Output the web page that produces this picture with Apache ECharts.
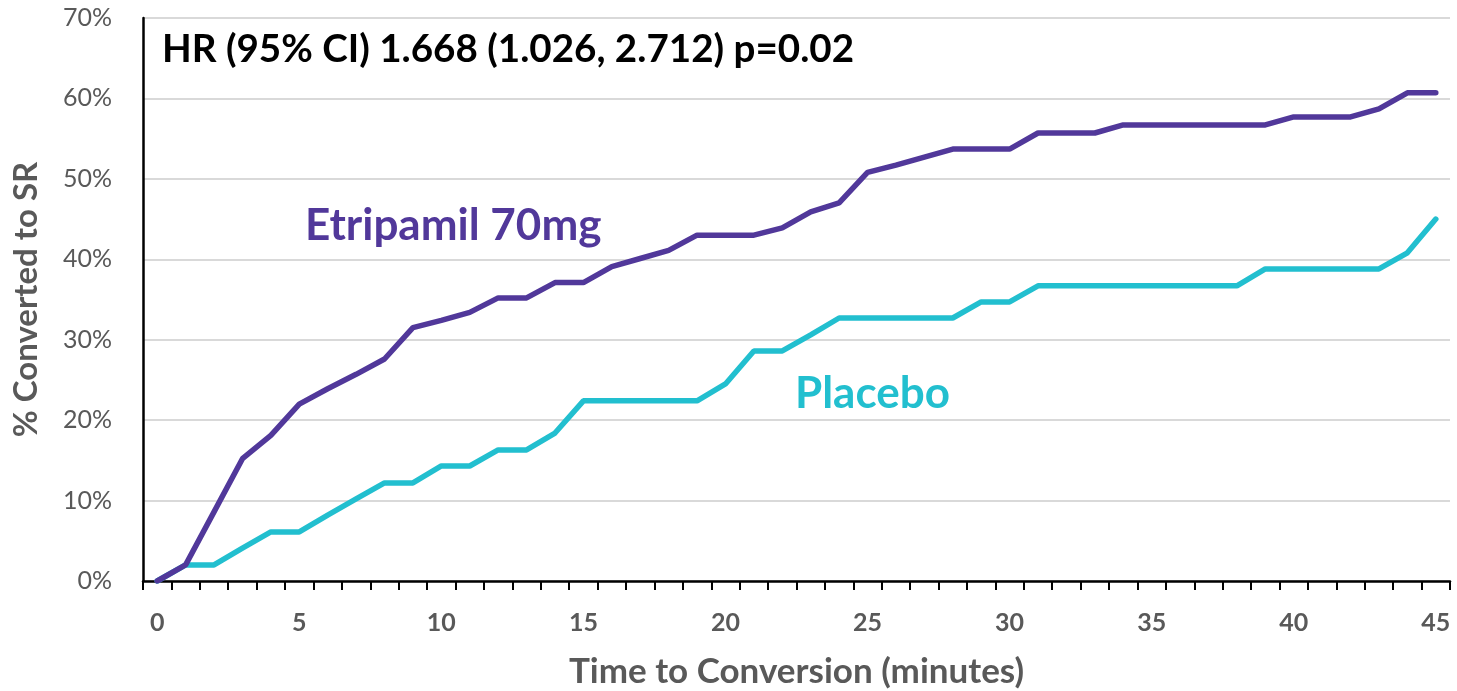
<!DOCTYPE html>
<html>
<head>
<meta charset="utf-8">
<title>Time to Conversion</title>
<script src="https://cdn.jsdelivr.net/npm/echarts@6/dist/echarts.min.js"></script>
<style>
  html, body { margin: 0; padding: 0; background: #fff; }
  #main { width: 1457px; height: 691px; }
</style>
</head>
<body>
<div id="main"></div>
<script>
// minutes 0..45
const minutes = Array.from({ length: 46 }, (_, i) => String(i))

// % converted to SR
const etripamil = [
  0, 2.0, 8.6, 15.2, 18.1, 22.0, 23.9, 25.7, 27.6, 31.5,
  32.4, 33.4, 35.2, 35.2, 37.1, 37.1, 39.1, 40.1, 41.1, 43.0,
  43.0, 43.0, 43.9, 45.9, 47.0, 50.8, 51.7, 52.7, 53.7, 53.7,
  53.7, 55.7, 55.7, 55.7, 56.7, 56.7, 56.7, 56.7, 56.7, 56.7,
  57.7, 57.7, 57.7, 58.7, 60.7, 60.7
]
const placebo = [
  0, 2.0, 2.0, 4.1, 6.1, 6.1, 8.2, 10.2, 12.2, 12.2,
  14.3, 14.3, 16.3, 16.3, 18.4, 22.4, 22.4, 22.4, 22.4, 22.4,
  24.5, 28.6, 28.6, 30.6, 32.7, 32.7, 32.7, 32.7, 32.7, 34.7,
  34.7, 36.7, 36.7, 36.7, 36.7, 36.7, 36.7, 36.7, 36.7, 38.8,
  38.8, 38.8, 38.8, 38.8, 40.8, 45.0
]

const PURPLE = '#51389a'
const TEAL = '#22bfcf'
const GREY = '#595959'
const FONT = 'Lato'

const chart = echarts.init(document.getElementById('main'))

chart.setOption({
  animation: false,
  grid: { left: 143, right: 7, top: 18, bottom: 110, outerBoundsMode: 'none' },
  xAxis: {
    type: 'category',
    data: minutes,
    boundaryGap: true,
    name: 'Time to Conversion (minutes)',
    nameLocation: 'middle',
    nameGap: 73,
    nameTextStyle: { color: GREY, fontFamily: FONT, fontWeight: 'bold', fontSize: 35 },
    axisLine: { lineStyle: { color: '#000', width: 2.5 } },
    axisTick: { show: true, interval: 0, length: 9, lineStyle: { color: '#000', width: 2 } },
    axisLabel: { interval: 4, color: GREY, fontFamily: FONT, fontWeight: 'bold', fontSize: 25, margin: 29 },
    splitLine: { show: false }
  },
  yAxis: {
    type: 'value',
    min: 0,
    max: 70,
    interval: 10,
    name: '% Converted to SR',
    nameLocation: 'middle',
    nameGap: 100,
    nameTextStyle: { color: GREY, fontFamily: FONT, fontWeight: 'bold', fontSize: 33 },
    axisLine: { show: true, lineStyle: { color: '#000', width: 2.5 } },
    axisTick: { show: false },
    axisLabel: { formatter: '{value}%', color: GREY, fontFamily: FONT, fontSize: 25, margin: 31 },
    splitLine: { lineStyle: { color: '#d9d9d9', width: 2 } }
  },
  graphic: [
    {
      type: 'text', left: 162, top: 30,
      style: { text: 'HR (95% CI) 1.668 (1.026, 2.712) p=0.02', fill: '#000', font: 'bold 38.6px ' + FONT }
    },
    {
      type: 'text', left: 305, top: 204,
      style: { text: 'Etripamil 70mg', fill: PURPLE, font: 'bold 44px ' + FONT }
    },
    {
      type: 'text', left: 795, top: 372,
      style: { text: 'Placebo', fill: TEAL, font: 'bold 44px ' + FONT }
    }
  ],
  series: [
    {
      name: 'Etripamil 70mg',
      type: 'line',
      data: etripamil,
      symbol: 'none',
      lineStyle: { color: PURPLE, width: 5.5, cap: 'round' },
      z: 3
    },
    {
      name: 'Placebo',
      type: 'line',
      data: placebo,
      symbol: 'none',
      lineStyle: { color: TEAL, width: 5.5, cap: 'round' },
      z: 2
    }
  ]
})
</script>
</body>
</html>
